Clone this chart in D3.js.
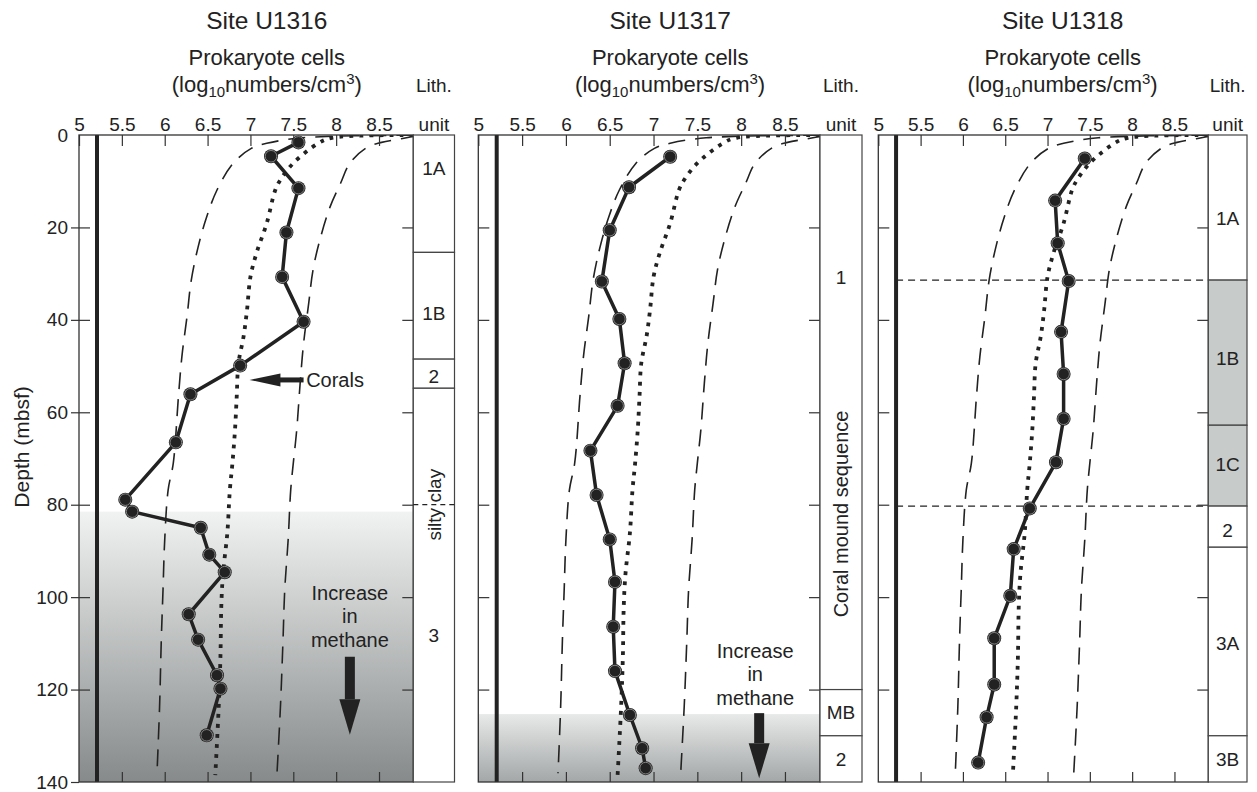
<!doctype html>
<html lang="en">
<head>
<meta charset="UTF-8">
<title>Prokaryote cells, Sites U1316-U1318</title>
<style>
  body { margin: 0; background: #fff; }
  svg { display: block; font-family: "Liberation Sans", Arial, Helvetica, sans-serif; }
</style>
</head>
<body>
<svg id="chart" width="1257" height="792"></svg>
<script src="https://d3js.org/d3.v7.min.js"></script>
<script>
  // ---- data ----
  const sites = ['Site U1316', 'Site U1317', 'Site U1318']
  const xTicks = [5, 5.5, 6, 6.5, 7, 7.5, 8, 8.5]
  const depthTicks = [0, 20, 40, 60, 80, 100, 120, 140]

  const u1316Depth = [1.6, 4.6, 11.5, 21.1, 30.7, 40.4, 49.9, 56.1, 66.5, 78.9, 81.5, 85.0, 90.8, 94.6, 103.7, 109.2, 116.9, 119.8, 129.9]
  const u1316Cells = [7.56, 7.24, 7.56, 7.42, 7.37, 7.62, 6.88, 6.30, 6.13, 5.54, 5.62, 6.42, 6.52, 6.70, 6.28, 6.39, 6.61, 6.65, 6.49]

  const u1317Depth = [4.7, 11.3, 20.6, 31.7, 39.8, 49.4, 58.6, 68.3, 77.9, 87.5, 96.7, 106.4, 116.0, 125.5, 132.7, 137.0]
  const u1317Cells = [7.19, 6.72, 6.50, 6.41, 6.61, 6.67, 6.59, 6.28, 6.35, 6.50, 6.56, 6.54, 6.56, 6.73, 6.87, 6.91]

  const u1318Depth = [5.1, 14.2, 23.4, 31.6, 42.6, 51.7, 61.4, 70.8, 80.8, 89.6, 99.7, 108.9, 118.9, 126.0, 135.8]
  const u1318Cells = [7.44, 7.09, 7.12, 7.25, 7.16, 7.19, 7.19, 7.10, 6.79, 6.60, 6.56, 6.37, 6.37, 6.28, 6.18]

  // general regression line (dotted) and prediction limits (dashed)
  const meanDepth = [0.05, 0.6, 1.8, 6.1, 9.7, 11.9, 19.1, 25.6, 30.7, 37.9, 43.6, 49.4, 56.6, 63.8, 71.0, 76.8, 86.2, 94.9, 102.0, 112.9, 123.7, 138.5]
  const meanCells = [8.9, 7.95, 7.79, 7.50, 7.35, 7.29, 7.19, 7.07, 7.00, 6.96, 6.92, 6.86, 6.84, 6.82, 6.79, 6.76, 6.73, 6.68, 6.66, 6.65, 6.63, 6.59]
  const lowDepth = [0.05, 0.6, 1.8, 2.9, 6.1, 11.9, 17.7, 24.2, 31.4, 39.3, 48.0, 56.6, 71.0, 76.8, 87.6, 98.5, 109.3, 123.7, 138.1]
  const lowCells = [8.9, 7.6, 7.19, 7.01, 6.80, 6.61, 6.49, 6.39, 6.31, 6.26, 6.20, 6.16, 6.10, 6.04, 6.00, 5.98, 5.96, 5.94, 5.91]
  const highDepth = [0.1, 0.8, 1.6, 2.7, 6.1, 10.5, 15.5, 22.7, 29.2, 36.4, 45.1, 53.7, 63.8, 71.0, 76.8, 87.6, 98.5, 109.3, 123.7, 138.1]
  const highCells = [8.95, 8.76, 8.53, 8.36, 8.16, 8.05, 7.93, 7.81, 7.73, 7.68, 7.62, 7.58, 7.54, 7.50, 7.47, 7.44, 7.40, 7.38, 7.35, 7.31]
  const detectionLimit = 5.21

  // lithologic units
  const u1316Units = ['1A', '1B', '2', '3']
  const u1316UnitTop = [0, 25.4, 48.5, 54.8]
  const u1316UnitBase = [25.4, 48.5, 54.8, 140]
  const u1316LabelDepth = [7.2, 38.5, 52.2, 108.2]

  const u1317Units = ['1', 'MB', '2']
  const u1317UnitTop = [0, 120, 130]
  const u1317UnitBase = [120, 130, 140]
  const u1317LabelDepth = [30.9, 124.9, 135]

  const u1318Units = ['1A', '1B', '1C', '2', '3A', '3B']
  const u1318UnitTop = [0, 31.4, 62.8, 80.3, 89.2, 130]
  const u1318UnitBase = [31.4, 62.8, 80.3, 89.2, 130, 140]
  const u1318LabelDepth = [18, 48.3, 71.2, 85.5, 110.1, 135.2]
  const u1318Shaded = ['1B', '1C']
  const u1318Boundaries = [31.4, 80.3]

  const methaneTop = [81.5, 125.3, null]

  // ---- layout ----
  const svg = d3.select('#chart')
  const y = d3.scaleLinear().domain([0, 140]).range([135, 782])
  const ink = '#222'

  const panels = [
    {site: sites[0], x0: 79, x1: 413.3, lith: 454.5, depth: u1316Depth, cells: u1316Cells,
      units: u1316Units, top: u1316UnitTop, base: u1316UnitBase, labels: u1316LabelDepth, shaded: [], methane: methaneTop[0]},
    {site: sites[1], x0: 478.3, x1: 820, lith: 862, depth: u1317Depth, cells: u1317Cells,
      units: u1317Units, top: u1317UnitTop, base: u1317UnitBase, labels: u1317LabelDepth, shaded: [], methane: methaneTop[1]},
    {site: sites[2], x0: 878.3, x1: 1208.3, lith: 1247, depth: u1318Depth, cells: u1318Cells,
      units: u1318Units, top: u1318UnitTop, base: u1318UnitBase, labels: u1318LabelDepth, shaded: u1318Shaded, methane: methaneTop[2]}
  ]

  const defs = svg.append('defs')
  const grads = [['grad0', '#f1f2f2', '#868a8a'], ['grad1', '#e8e9e9', '#a3a7a7']]
  grads.forEach(([id, c0, c1]) => {
    const g = defs.append('linearGradient').attr('id', id).attr('x1', 0).attr('y1', 0).attr('x2', 0).attr('y2', 1)
    g.append('stop').attr('offset', '0%').attr('stop-color', c0)
    g.append('stop').attr('offset', '100%').attr('stop-color', c1)
  })

  panels.forEach((p, i) => {
    const x = d3.scaleLinear().domain([5, 8.9]).range([p.x0, p.x1])
    const g = svg.append('g')
    const mid = (p.x0 + p.lith) / 2

    defs.append('clipPath').attr('id', 'clip' + i)
      .append('rect').attr('x', p.x0).attr('y', y(0)).attr('width', p.x1 - p.x0).attr('height', y(140) - y(0))

    // methane shading
    if (p.methane != null) {
      g.append('rect')
        .attr('x', p.x0).attr('y', y(p.methane))
        .attr('width', p.x1 - p.x0).attr('height', y(140) - y(p.methane))
        .attr('fill', `url(#grad${i})`)
    }

    // unit boundaries across the plot (U1318)
    if (i === 2) {
      u1318Boundaries.forEach(d => {
        g.append('line')
          .attr('x1', x(detectionLimit)).attr('x2', p.x1)
          .attr('y1', y(d)).attr('y2', y(d))
          .attr('stroke', ink).attr('stroke-width', 1.3).attr('stroke-dasharray', '7,5')
      })
    }

    // regression curves
    const curves = g.append('g').attr('clip-path', `url(#clip${i})`)
    const curve = d3.line().x(d => x(d[1])).y(d => y(d[0])).curve(d3.curveCatmullRom)
    curves.append('path').datum(d3.zip(lowDepth, lowCells)).attr('d', curve)
      .attr('fill', 'none').attr('stroke', ink).attr('stroke-width', 1.6).attr('stroke-dasharray', '17,10')
    curves.append('path').datum(d3.zip(highDepth, highCells)).attr('d', curve)
      .attr('fill', 'none').attr('stroke', ink).attr('stroke-width', 1.6).attr('stroke-dasharray', '17,10')
    curves.append('path').datum(d3.zip(meanDepth, meanCells)).attr('d', curve)
      .attr('fill', 'none').attr('stroke', ink).attr('stroke-width', 3.8).attr('stroke-dasharray', '3.8,6.2')

    // detection limit
    g.append('line')
      .attr('x1', x(detectionLimit)).attr('x2', x(detectionLimit))
      .attr('y1', y(0)).attr('y2', y(140))
      .attr('stroke', ink).attr('stroke-width', 4)

    // profile
    const pts = d3.zip(p.depth, p.cells)
    g.append('path').datum(pts)
      .attr('d', d3.line().x(d => x(d[1])).y(d => y(d[0])))
      .attr('fill', 'none').attr('stroke', ink).attr('stroke-width', 3.5).attr('stroke-linejoin', 'round')
    const dots = g.append('g').selectAll('g').data(pts).enter().append('g')
      .attr('transform', d => `translate(${x(d[1])},${y(d[0])})`)
    dots.append('circle').attr('r', 7).attr('fill', ink)
    dots.append('circle').attr('r', 5.8).attr('fill', 'none').attr('stroke', '#8d8d8d').attr('stroke-width', 0.9)

    // frame and axes
    g.append('rect')
      .attr('x', p.x0).attr('y', y(0)).attr('width', p.x1 - p.x0).attr('height', y(140) - y(0))
      .attr('fill', 'none').attr('stroke', '#333').attr('stroke-width', 1.3)

    const top = g.append('g').attr('transform', `translate(0,${y(0)})`)
      .call(d3.axisTop(x).tickValues(xTicks).tickSizeInner(-11).tickSizeOuter(0).tickPadding(4).tickFormat(d3.format('')))
    top.select('.domain').remove()
    top.selectAll('text').attr('font-size', 19).attr('fill', ink).attr('font-family', null)
    top.selectAll('line').attr('stroke', '#333').attr('stroke-width', 1.2)

    const bottom = g.append('g').attr('transform', `translate(0,${y(140)})`)
      .call(d3.axisBottom(x).tickValues(xTicks.slice(1)).tickSizeInner(-10).tickSizeOuter(0).tickFormat(''))
    bottom.select('.domain').remove()
    bottom.selectAll('line').attr('stroke', '#333').attr('stroke-width', 1.2)

    const left = g.append('g').attr('transform', `translate(${p.x0},0)`)
      .call(d3.axisLeft(y).tickValues(depthTicks.slice(1, -1)).tickSizeInner(-11).tickSizeOuter(0).tickFormat(''))
    left.select('.domain').remove()
    left.selectAll('line').attr('stroke', '#333').attr('stroke-width', 1.2)

    const right = g.append('g').attr('transform', `translate(${p.x1},0)`)
      .call(d3.axisRight(y).tickValues(depthTicks.slice(1, -1)).tickSizeInner(-11).tickSizeOuter(0).tickFormat(''))
    right.select('.domain').remove()
    right.selectAll('line').attr('stroke', '#333').attr('stroke-width', 1.2)

    if (i === 0) {
      const lab = g.append('g').attr('transform', `translate(${p.x0},0)`)
        .call(d3.axisLeft(y).tickValues(depthTicks).tickSizeInner(8).tickSizeOuter(0).tickPadding(3))
      lab.select('.domain').remove()
      lab.selectAll('line').attr('stroke', '#333').attr('stroke-width', 1.2)
        .filter(d => d === 0).remove()
      lab.selectAll('text').attr('font-size', 19).attr('fill', ink).attr('font-family', null)

      g.append('text')
        .attr('transform', `translate(29,${y(67.5)}) rotate(-90)`)
        .attr('text-anchor', 'middle').attr('font-size', 21).attr('fill', ink)
        .text('Depth (mbsf)')
    }

    // titles
    g.append('text').attr('x', mid).attr('y', 29).attr('text-anchor', 'middle')
      .attr('font-size', 24.5).attr('fill', ink).text(p.site)
    g.append('text').attr('x', mid).attr('y', 65).attr('text-anchor', 'middle')
      .attr('font-size', 22).attr('fill', ink).text('Prokaryote cells')
    const sub = g.append('text').attr('x', mid).attr('y', 92).attr('text-anchor', 'middle')
      .attr('font-size', 22).attr('fill', ink)
    sub.append('tspan').text('(log')
    sub.append('tspan').attr('font-size', 15).attr('dy', 5).text('10')
    sub.append('tspan').attr('dy', -5).text('numbers/cm')
    sub.append('tspan').attr('font-size', 15).attr('dy', -8).text('3')
    sub.append('tspan').attr('dy', 8).text(')')

    // lithology column
    const lmid = (p.x1 + p.lith) / 2
    g.append('text').attr('x', lmid).attr('y', 92).attr('text-anchor', 'middle')
      .attr('font-size', 19).attr('fill', ink).text('Lith.')
    g.append('text').attr('x', lmid).attr('y', 131).attr('text-anchor', 'middle')
      .attr('font-size', 19).attr('fill', ink).text('unit')

    p.units.forEach((u, k) => {
      g.append('rect')
        .attr('x', p.x1).attr('y', y(p.top[k]))
        .attr('width', p.lith - p.x1).attr('height', y(p.base[k]) - y(p.top[k]))
        .attr('fill', p.shaded.includes(u) ? '#c7cbca' : '#fff')
        .attr('stroke', '#444').attr('stroke-width', 1.2)
      g.append('text').attr('x', lmid).attr('y', y(p.labels[k])).attr('dy', '0.35em')
        .attr('text-anchor', 'middle').attr('font-size', 19).attr('fill', ink).text(u)
    })

    if (i === 0) {
      g.append('line')
        .attr('x1', p.x1).attr('x2', p.lith).attr('y1', y(80)).attr('y2', y(80))
        .attr('stroke', ink).attr('stroke-width', 1.3).attr('stroke-dasharray', '5,4')
      g.append('text')
        .attr('transform', `translate(${lmid},${y(80)}) rotate(-90)`)
        .attr('dy', '0.35em').attr('text-anchor', 'middle').attr('font-size', 19).attr('fill', ink)
        .text('silty clay')
    }
    if (i === 1) {
      g.append('text')
        .attr('transform', `translate(${lmid},${y(82)}) rotate(-90)`)
        .attr('dy', '0.35em').attr('text-anchor', 'middle').attr('font-size', 20).attr('fill', ink)
        .text('Coral mound sequence')
    }

    // methane annotation
    const methaneNote = [[8.16, 100.6, 112.9, 122.1, 129.8], [8.16, 113.2, 125.1, 131.6, 139.2]][i]
    if (methaneNote) {
      const [mx, t0, a0, a1, tip] = methaneNote
      const cx = x(mx)
      const note = g.append('text').attr('text-anchor', 'middle').attr('font-size', 20).attr('fill', ink)
      ;['Increase', 'in', 'methane'].forEach((w, k) => {
        note.append('tspan').attr('x', cx).attr('y', y(t0) + k * 23.3).text(w)
      })
      const ax = i === 1 ? cx + 4 : cx
      g.append('rect').attr('x', ax - 5).attr('y', y(a0)).attr('width', 10).attr('height', y(a1) - y(a0)).attr('fill', ink)
      g.append('path')
        .attr('d', `M${ax - 10.5},${y(a1)}L${ax + 10.5},${y(a1)}L${ax},${y(tip)}Z`)
        .attr('fill', ink)
    }

    // corals arrow
    if (i === 0) {
      const yy = y(53.0)
      g.append('line').attr('x1', x(7.34)).attr('x2', x(7.62)).attr('y1', yy).attr('y2', yy)
        .attr('stroke', ink).attr('stroke-width', 5)
      g.append('path')
        .attr('d', `M${x(6.99)},${yy}L${x(7.35)},${yy - 6.5}L${x(7.35)},${yy + 6.5}Z`)
        .attr('fill', ink)
      g.append('text').attr('x', x(7.65)).attr('y', yy).attr('dy', '0.35em')
        .attr('font-size', 20).attr('fill', ink).text('Corals')
    }
  })
</script>
</body>
</html>
